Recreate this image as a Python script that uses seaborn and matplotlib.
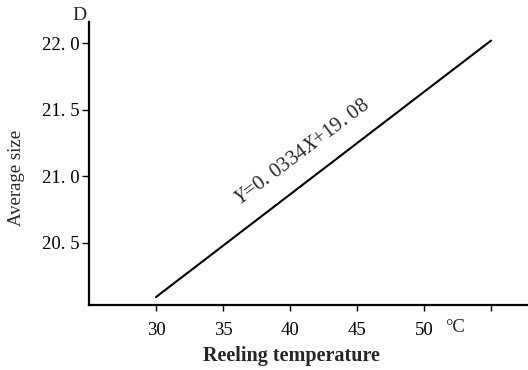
import matplotlib
matplotlib.use("Agg")
import matplotlib.pyplot as plt
import seaborn as sns
import pandas as pd

# Data
temperature = [30, 55]
avg_size = [20.09, 22.02]
x_ticks = [30, 35, 40, 45, 50, 55]
x_tick_labels = ["30", "35", "40", "45", "50", ""]
y_ticks = [20.5, 21.0, 21.5, 22.0]
y_tick_labels = ["20. 5", "21. 0", "21. 5", "22. 0"]
equation = "$Y$=0. 0334$X$+19. 08"

sns.set_style("ticks")
plt.rcParams['font.family'] = ['Liberation Serif', 'DejaVu Serif']
plt.rcParams['mathtext.fontset'] = 'custom'
plt.rcParams['mathtext.it'] = 'Liberation Serif:italic'
plt.rcParams['mathtext.rm'] = 'Liberation Serif'

fig = plt.figure(figsize=(5.28, 3.70), dpi=100)
ax = fig.add_axes([89/528, 65/370, 1 - 89/528, (305 - 22)/370])

df = pd.DataFrame({"t": temperature, "s": avg_size})
sns.lineplot(data=df, x="t", y="s", ax=ax, color="black", linewidth=1.5)

ax.set_xlim(25, 57.76)
ax.set_ylim(20.03, 22.16)
ax.set_xticks(x_ticks)
ax.set_xticklabels(x_tick_labels, fontsize=13.5)
ax.set_yticks(y_ticks)
ax.set_yticklabels(y_tick_labels, fontsize=13.5)
ax.tick_params(axis="x", direction="out", length=4, width=1, colors="black", pad=8)
ax.tick_params(axis="y", direction="out", length=5, width=1, colors="black", pad=1.5)

for s in ["top", "right"]:
    ax.spines[s].set_visible(False)
for s in ["left", "bottom"]:
    ax.spines[s].set_linewidth(1.6)
    ax.spines[s].set_color("black")

ax.set_xlabel("Reeling temperature", fontsize=14.5, fontweight="bold")
ax.xaxis.set_label_coords(0.462, -0.145)
ax.set_ylabel("Average size", fontsize=13.5)
ax.yaxis.set_label_coords(-0.146, 0.45)

fig.text(455/528, 1 - 327/370, "°C", fontsize=13.5, ha="center", va="center")
fig.text(79/528, 1 - 16/370, "D", fontsize=14, ha="center", va="center")

ax.text(40.95, 21.175, equation, fontsize=15, rotation=37,
        rotation_mode="anchor", ha="center", va="center")

fig.savefig("out.png", dpi=100)
